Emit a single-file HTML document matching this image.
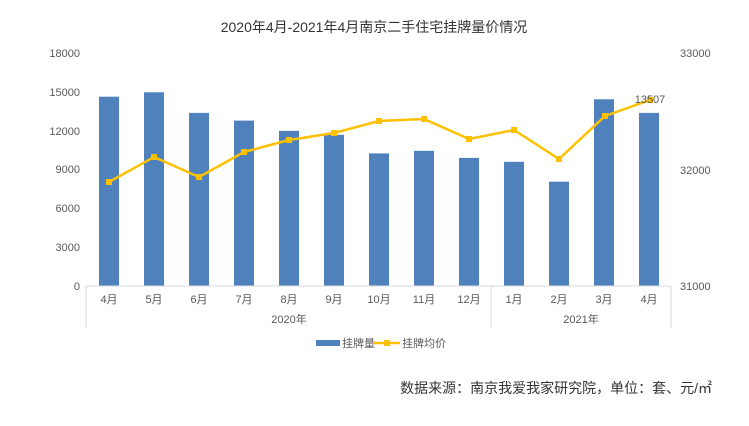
<!DOCTYPE html>
<html><head><meta charset="utf-8"><style>
body{margin:0;background:#fff;}
svg text{font-family:"Liberation Sans","Noto Sans CJK SC",sans-serif;fill:#595959;}
</style></head><body>
<svg width="749" height="421" viewBox="0 0 749 421" xmlns="http://www.w3.org/2000/svg">
<text x="374" y="32" font-size="14" text-anchor="middle" fill="#333" style="fill:#333">2020年4月-2021年4月南京二手住宅挂牌量价情况</text>
<g font-size="11" text-anchor="end">
<text x="80" y="57">18000</text><text x="80" y="96">15000</text><text x="80" y="135">12000</text>
<text x="80" y="173">9000</text><text x="80" y="212">6000</text><text x="80" y="251">3000</text><text x="80" y="290">0</text>
</g>
<g font-size="11" text-anchor="start">
<text x="680" y="57">33000</text><text x="680" y="174">32000</text><text x="680" y="290">31000</text>
</g>
<g fill="#4f81bd">
<rect x="99" y="96.7" width="20" height="189.3"/>
<rect x="144" y="92.3" width="20" height="193.7"/>
<rect x="189" y="112.9" width="20" height="173.1"/>
<rect x="234" y="120.6" width="20" height="165.4"/>
<rect x="279" y="130.9" width="20" height="155.1"/>
<rect x="324" y="134.8" width="20" height="151.2"/>
<rect x="369" y="153.4" width="20" height="132.6"/>
<rect x="414" y="150.8" width="20" height="135.2"/>
<rect x="459" y="157.9" width="20" height="128.1"/>
<rect x="504" y="161.8" width="20" height="124.2"/>
<rect x="549" y="181.7" width="20" height="104.3"/>
<rect x="594" y="99.3" width="20" height="186.7"/>
<rect x="639" y="112.9" width="20" height="173.1"/>
</g>
<line x1="86" y1="286" x2="671" y2="286" stroke="#d9d9d9"/>
<line x1="86" y1="286" x2="86" y2="328" stroke="#d9d9d9"/>
<line x1="491" y1="286" x2="491" y2="328" stroke="#d9d9d9"/>
<line x1="671" y1="286" x2="671" y2="328" stroke="#d9d9d9"/>
<polyline fill="none" stroke="#ffc000" stroke-width="2.5" stroke-linejoin="round" points="109,182 154,157 199,177 244,152 289,140 334,133 379,121 424,119 469,139 514,130 559,159 605,116 650,100"/>
<g fill="#ffc000">
<rect x="106" y="179" width="6" height="6"/><rect x="151" y="154" width="6" height="6"/><rect x="196" y="174" width="6" height="6"/>
<rect x="241" y="149" width="6" height="6"/><rect x="286" y="137" width="6" height="6"/><rect x="331" y="130" width="6" height="6"/>
<rect x="376" y="118" width="6" height="6"/><rect x="421" y="116" width="6" height="6"/><rect x="466" y="136" width="6" height="6"/>
<rect x="511" y="127" width="6" height="6"/><rect x="556" y="156" width="6" height="6"/><rect x="602" y="113" width="6" height="6"/>
<rect x="647" y="97" width="6" height="6"/>
</g>
<text x="650" y="103" font-size="11" text-anchor="middle">13507</text>
<g font-size="11" text-anchor="middle">
<text x="109" y="303">4月</text><text x="154" y="303">5月</text><text x="199" y="303">6月</text><text x="244" y="303">7月</text>
<text x="289" y="303">8月</text><text x="334" y="303">9月</text><text x="379" y="303">10月</text><text x="424" y="303">11月</text>
<text x="469" y="303">12月</text><text x="514" y="303">1月</text><text x="559" y="303">2月</text><text x="604" y="303">3月</text>
<text x="649" y="303">4月</text>
<text x="289" y="323">2020年</text><text x="581" y="323">2021年</text>
</g>
<rect x="316" y="340" width="24" height="6" fill="#4f81bd"/>
<text x="342" y="347" font-size="11">挂牌量</text>
<line x1="374" y1="343" x2="400" y2="343" stroke="#ffc000" stroke-width="2.5"/>
<rect x="384" y="340" width="6" height="6" fill="#ffc000"/>
<text x="402" y="347" font-size="11">挂牌均价</text>
<text x="712" y="393" font-size="14" text-anchor="end" style="fill:#333">数据来源：南京我爱我家研究院，单位：套、元/㎡</text>
</svg>
</body></html>
